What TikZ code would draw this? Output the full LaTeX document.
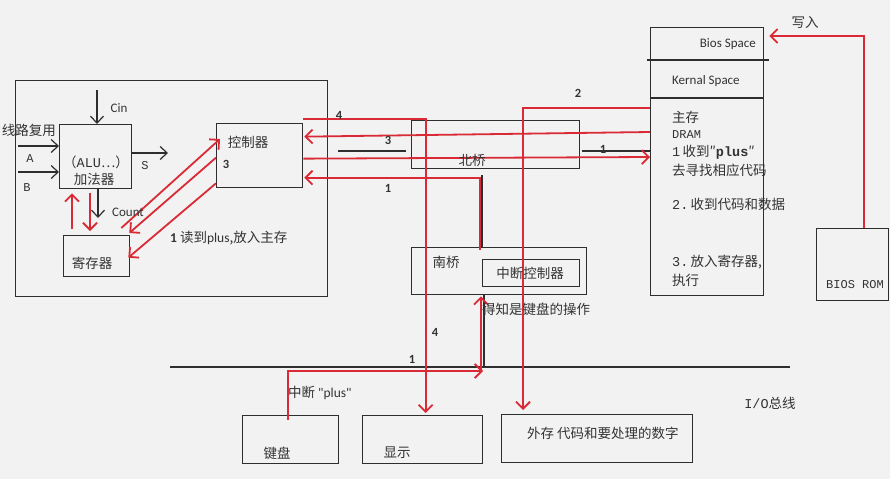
\documentclass[tikz,border=0pt]{standalone}
\usepackage{fontspec}
\setmainfont{Carlito}
\setmonofont{Liberation Mono}
\newfontfamily\cjk{Noto Sans CJK SC}
\newfontfamily\plainsans{Carlito}
\usetikzlibrary{arrows.meta}
\definecolor{redline}{HTML}{D92A35}
\definecolor{inkgray}{HTML}{2E2E2E}
\definecolor{txtgray}{HTML}{333333}
\definecolor{paper}{HTML}{F2F2F2}

\begin{document}
\begin{tikzpicture}[x=1pt,y=-1pt]
  \tikzstyle{box}=[draw=inkgray,line width=1.3pt,anchor=north west,inner sep=0pt]
  \tikzstyle{wire}=[draw=inkgray,line width=1.2pt]
  \tikzstyle{warrow}=[wire,-{Straight Barb[length=7pt,width=13pt]}]
  \tikzstyle{rarrow}=[draw=redline,line width=1.8pt,-{Straight Barb[length=7pt,width=14pt]}]
  \tikzstyle{cn}=[text=txtgray,inner sep=0pt,font=\cjk\fontsize{13.5}{16}\selectfont]
  \tikzstyle{en}=[text=txtgray,inner sep=0pt,font=\fontsize{13}{15}\selectfont]
  \tikzstyle{num}=[text=txtgray,inner sep=0pt,font=\bfseries\fontsize{12.5}{14}\selectfont]
  \tikzstyle{mono}=[text=txtgray,inner sep=0pt,font=\ttfamily\fontsize{12}{14}\selectfont]

  \fill[paper] (0,0) rectangle (890,479);
  \useasboundingbox (0,0) rectangle (890,479);

  % boxes
  \node[box,minimum width=312pt,minimum height=216pt] (cpu) at (15,80) {};
  \node[box,minimum width=72pt,minimum height=64pt] (alu) at (59,124) {};
  \node[box,minimum width=66pt,minimum height=41pt] (reg) at (63,235) {};
  \node[box,minimum width=86pt,minimum height=64pt] (ctrl) at (216,123) {};
  \node[box,minimum width=168pt,minimum height=48pt] (nb) at (411,120) {};
  \node[box,minimum width=175pt,minimum height=47pt] (sb) at (411,247) {};
  \node[box,minimum width=97pt,minimum height=27pt] (intc) at (482,259) {};
  \node[box,minimum width=113pt,minimum height=268pt] (mem) at (650,27) {};
  \node[box,minimum width=72pt,minimum height=72pt] (rom) at (816,228) {};
  \node[box,minimum width=96pt,minimum height=48pt] (kbd) at (242,415) {};
  \node[box,minimum width=120pt,minimum height=48pt] (disp) at (362,415) {};
  \node[box,minimum width=191pt,minimum height=48pt] (ext) at (501,414) {};

  % memory partitions
  \coordinate (d1) at (0,60);
  \coordinate (d2) at (0,98);
  \draw[wire,shorten <=-3pt,shorten >=-5pt] (d1 -| mem.west) -- (d1 -| mem.east);
  \draw[wire] (d2 -| mem.west) -- (d2 -| mem.east);

  % adder inputs and outputs
  \coordinate (cin) at (97,90);
  \coordinate (ain) at (18,146);
  \coordinate (bin) at (18,172);
  \coordinate (sout) at (168,153);
  \coordinate (cnt) at (98,218);
  \draw[warrow] (cin) -- (cin |- alu.north);
  \draw[warrow] (ain) -- (ain -| alu.west);
  \draw[warrow] (bin) -- (bin -| alu.west);
  \draw[warrow] (sout -| alu.east) -- (sout);
  \draw[warrow] (cnt |- alu.south) -- (cnt);

  % black bus lines
  \coordinate (l3a) at (338,151);
  \draw[wire,shorten >=5pt] (l3a) -- (l3a -| nb.west);
  \draw[wire,shorten <=2pt] (l3a -| nb.east) -- (l3a -| mem.west);
  \coordinate (nbbot) at (482,175);
  \draw[wire] (nbbot) -- (nbbot |- sb.north);
  \coordinate (busL) at (170,367);
  \coordinate (busR) at (790,367);
  \draw[wire] (busL) -- (busR);
  \coordinate (sbx) at (484,0);
  \draw[wire] (sbx |- busL) -- (sbx |- sb.south);

  % red flows
  \coordinate (upx) at (72,229);
  \coordinate (dnx) at (90,231);
  \draw[rarrow,shorten >=4pt] (upx) -- (upx |- alu.south);
  \draw[rarrow,shorten <=4pt] (dnx |- alu.south) -- (dnx);
  \draw[rarrow] ([xshift=-9pt,yshift=7pt]reg.north east) -- ([xshift=4pt,yshift=-16pt]ctrl.north west);
  \draw[rarrow] ([yshift=-2pt]ctrl.west) -- ([xshift=-1pt,yshift=2pt]reg.north east);
  \draw[rarrow] ([yshift=5pt]ctrl.south west) -- ([xshift=-2pt,yshift=-1.5pt]reg.east);
  \draw[rarrow,shorten >=2pt] ([yshift=4pt]ctrl.north east) -| ([xshift=3pt]disp.north);
  \draw[rarrow] ([yshift=-105pt]mem.north west) -- ([xshift=1pt,yshift=19pt]ctrl.east);
  \draw[rarrow] ([yshift=-3pt]ctrl.east) -- ([yshift=-130pt]mem.north west);
  \draw[rarrow] ([xshift=-2pt,yshift=9pt]intc.north west) |- ([xshift=1pt,yshift=-22pt]ctrl.east);
  \coordinate (two) at (523,108);
  \draw[rarrow,shorten >=4pt] (two -| mem.west) -- (two) -- (two |- ext.north);
  \coordinate (wr) at (864,36);
  \draw[rarrow,shorten >=5pt] (wr |- rom.north) -- (wr) -- (wr -| mem.east);
  \coordinate (kup) at (288,420);
  \coordinate (irq) at (483,371);
  \draw[rarrow] (kup) |- (irq);
  \draw[rarrow,shorten >=1pt] ([xshift=-2pt]irq) -- ([xshift=-2pt]irq |- sb.south);

  % texts
  \node[cn,anchor=east] (mux) at (56,130) {线路复用};
  \node[en] (cinl) at (119,108) {Cin};
  \node[mono] (al) at (30,159) {A};
  \node[mono] (bl) at (27,188) {B};
  \node[mono] (sl) at (145,166) {S};
  \node[cn] (alut) at (96,162) {（{\ttfamily ALU}…）};
  \node[cn] (addt) at (94,179) {加法器};
  \node[en] (cntl) at (128,212) {Count};
  \node[cn] (regt) at (92,263) {寄存器};
  \node[cn] (ctrlt) at (248,142) {控制器};
  \node[num] (c3) at (226,164) {3};
  \node[cn,anchor=west] (readl) at (170,238) {{\rmfamily\bfseries 1} 读到{\rmfamily plus},放入主存};
  \node[cn] (nbt) at (472,160) {北桥};
  \node[cn] (sbt) at (446,262) {南桥};
  \node[cn] (intct) at (530,273) {中断控制器};
  \node[cn,anchor=west] (knowt) at (482,309) {得知是键盘的操作};
  \node[num] (n3) at (388,140) {3};
  \node[num] (n1a) at (388,188) {1};
  \node[num] (n1b) at (603,149) {1};
  \node[num] (n2) at (578,93) {2};
  \node[num] (n4a) at (339,115) {4};
  \node[num] (n4b) at (435,332) {4};
  \node[num] (n1c) at (412,359) {1};
  \node[cn,anchor=west] (irqt) at (288,393) {中断 {\plainsans "plus"}};
  \node[cn] (iobus) at (770,403) {{\ttfamily I/O}总线};
  \node[cn] (kbdt) at (277,453) {键盘};
  \node[cn] (dispt) at (397,453) {显示};
  \node[cn,anchor=west] (extt) at (527,433) {外存 代码和要处理的数字};
  \node[en,anchor=east] (biosl) at (756,44) {Bios Space};
  \node[en,anchor=west] (kernl) at (672,81) {Kernal Space};
  \node[cn,anchor=west] (m1) at (672,117) {主存};
  \node[mono,anchor=west] (m2) at (672,135) {DRAM};
  \node[cn,anchor=west] (m3) at (672,152) {{\ttfamily 1}\,收到″{\ttfamily\bfseries plus}″};
  \node[cn,anchor=west] (m4) at (672,170) {去寻找相应代码};
  \node[cn,anchor=west] (m5) at (672,204) {{\ttfamily 2.}\,收到代码和数据};
  \node[cn,anchor=west] (m6) at (672,262) {{\ttfamily 3.}\,放入寄存器,};
  \node[cn,anchor=west] (m7) at (672,280) {执行};
  \node[cn] (wrt) at (805,22) {写入};
  \node[mono] (romt) at (855,285) {BIOS ROM};
\end{tikzpicture}
\end{document}
